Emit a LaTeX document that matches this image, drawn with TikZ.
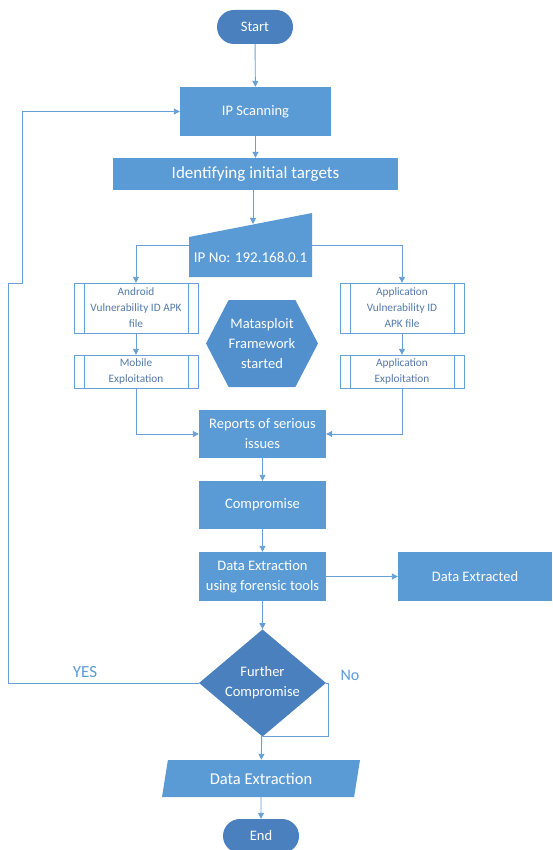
\documentclass[tikz,border=0pt]{standalone}
\usepackage{fontspec}
\setmainfont{Carlito}
\usetikzlibrary{arrows.meta,shapes.geometric,shapes.symbols}
\definecolor{boxblue}{RGB}{91,155,213}
\definecolor{darkblue}{RGB}{74,128,190}
\definecolor{hexblue}{RGB}{82,143,205}
\definecolor{lineblue}{RGB}{103,160,214}
\definecolor{subtext}{RGB}{84,122,168}
\begin{document}
\begin{tikzpicture}[x=1pt, y=-1pt, font=\fontsize{14.5}{20}\selectfont,
	terminal/.style={fill=darkblue, text=white, rounded corners=17pt, minimum width=76pt, minimum height=34pt},
	process/.style={fill=boxblue, text=white, align=center, inner sep=2pt, minimum width=127pt, minimum height=48pt},
	subproc/.style={draw=lineblue, fill=white, text=subtext, align=center, inner sep=1pt, minimum width=124pt, font=\fontsize{11.3}{16}\selectfont,
		path picture={\draw[lineblue] ([xshift=10pt]path picture bounding box.north west) -- ([xshift=10pt]path picture bounding box.south west) ([xshift=-10pt]path picture bounding box.north east) -- ([xshift=-10pt]path picture bounding box.south east);}},
	line/.style={draw=lineblue, line width=0.9pt},
	arrow/.style={line, -{Triangle[length=6pt,width=6pt]}}]
	\useasboundingbox (0,0) rectangle (552,850);
	\node[terminal] (start) at (255,27) {Start};
	\node[process, minimum width=151pt, minimum height=49pt] (ipscan) at (255.5,111.5) {IP Scanning};
	\node[process, minimum width=285pt, minimum height=32pt, font=\fontsize{17}{20}\selectfont] (ident) at (255.5,174) {Identifying initial targets};
	\fill[boxblue] (189,277) -- (312,277) -- (312,213) -- (189,237) -- cycle;
	\node[text=white, minimum width=123pt, minimum height=40pt, font=\fontsize{15}{20}\selectfont] (ipno) at (250.5,257) {IP No: 192.168.0.1};
	\coordinate (ipnotop) at (253,224);
	\node[subproc, minimum height=50pt] (android) at (136,308) {Android\\Vulnerability ID APK\\file};
	\node[subproc, minimum height=33pt] (mobile) at (136,371.5) {Mobile\\Exploitation};
	\node[subproc, minimum height=50pt] (appvuln) at (402,308) {Application\\Vulnerability ID\\APK file};
	\node[subproc, minimum height=33pt] (appexp) at (402,371.5) {Application\\Exploitation};
	\node[signal, signal to=west and east, signal pointer angle=125, fill=hexblue, text=white, align=center, inner sep=0pt, minimum width=112pt, minimum height=87pt] (msf) at (262,343.5) {Matasploit\\Framework\\started};
	\node[process] (reports) at (262.5,434) {Reports of serious\\issues};
	\node[process] (comp) at (262.5,505) {Compromise};
	\node[process, minimum height=49pt] (extract) at (262.5,576.5) {Data Extraction\\using forensic tools};
	\node[process, minimum width=154pt, minimum height=49pt] (extracted) at (475,576.5) {Data Extracted};
	\node[diamond, fill=darkblue, text=white, align=center, inner sep=0pt, minimum width=127pt, minimum height=88pt] (dec) at (262.5,683) {Further\\Compromise};
	\node[trapezium, trapezium left angle=72, trapezium right angle=108, trapezium stretches body, fill=boxblue, text=white, minimum width=198pt, minimum height=37pt, font=\fontsize{16.5}{20}\selectfont] (dataext) at (261,778.5) {Data Extraction};
	\node[terminal] (end) at (261,836) {End};
	\node[text=boxblue, font=\fontsize{17}{20}\selectfont] (yes) at (85,672) {YES};
	\node[text=boxblue, font=\fontsize{16}{20}\selectfont] (no) at (350,675) {No};
	\draw[arrow] (start) -- (ipscan);
	\draw[arrow] (ipscan) -- (ident);
	\draw[arrow] (ident.south -| ipnotop) -- (ipnotop);
	\draw[arrow] ([yshift=12pt]ipno.west) -| (android.north);
	\draw[arrow] ([yshift=12pt]ipno.east) -| (appvuln.north);
	\draw[arrow] (android) -- (mobile);
	\draw[arrow] (appvuln) -- (appexp);
	\draw[arrow] (mobile.south) |- (reports.west);
	\draw[arrow] (appexp.south) |- (reports.east);
	\draw[arrow] (reports) -- (comp);
	\draw[arrow] (comp) -- (extract);
	\draw[arrow] (extract) -- (extracted);
	\draw[arrow] (extract) -- (dec);
	\draw[arrow] (dec) -- (dataext);
	\draw[arrow] (dataext) -- (end);
	\draw[arrow] (dec.west) -| (8,283) -- (22,283) |- (ipscan.west);
	\draw[line] (dec.east) -- (328,683) |- (dec.south);
\end{tikzpicture}
\end{document}
